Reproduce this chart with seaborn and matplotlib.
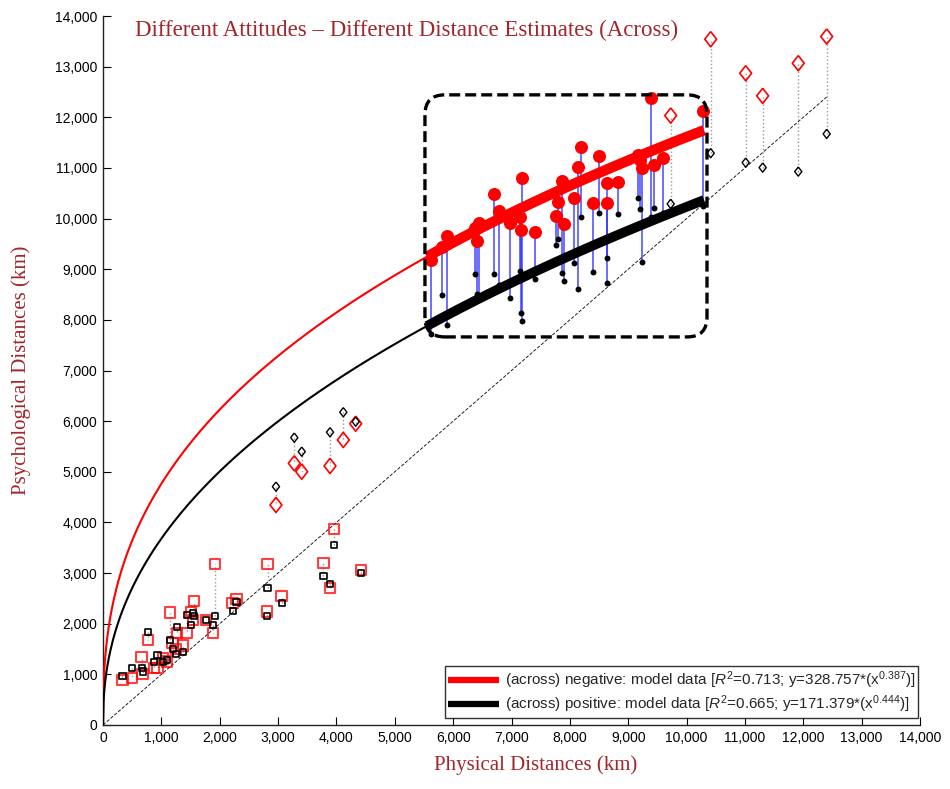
import numpy as np
import pandas as pd
import matplotlib
matplotlib.use("Agg")
import matplotlib.pyplot as plt
import seaborn as sns
from matplotlib.patches import FancyBboxPatch
from matplotlib.lines import Line2D
from matplotlib.ticker import FuncFormatter

# ---------------- data (km) ----------------
# open squares: short physical distances (negative = red, positive = black)
sq_x = [334, 492, 680, 663, 776, 879, 934, 1028, 1097, 1148, 1194, 1263, 1251, 1366, 1434,
        1511, 1564, 1547, 1765, 1919, 1880, 2222, 2288, 2819, 2807, 3062, 3778, 3890, 3963, 4421]
sq_neg = [889, 934, 1007, 1343, 1673, 1120, 1126, 1317, 1250, 2218, 1625, 1811, 1495, 1566, 1811,
          2226, 2449, 2074, 2074, 3174, 1811, 2404, 2483, 3174, 2238, 2548, 3194, 2700, 3865, 3061]
sq_pos = [974, 1126, 1057, 1132, 1837, 1244, 1383, 1244, 1290, 1679, 1495, 1930, 1408, 1436, 2173,
          1975, 2153, 2206, 2074, 2153, 1975, 2257, 2433, 2712, 2153, 2404, 2943, 2785, 3555, 2996]

# open diamonds: medium and very long distances
dm_x = [2964, 3278, 3405, 3890, 4118, 4330, 9728, 10413, 11013, 11304, 11914, 12401]
dm_neg = [4345, 5168, 5003, 5115, 5629, 5950, 12034, 13542, 12870, 12423, 13068, 13595]
dm_pos = [4707, 5674, 5398, 5781, 6176, 5990, 10290, 11291, 11105, 11007, 10928, 11672]

# filled circles: points inside the dashed box
ci_x = [5620, 5809, 5889, 6374, 6448, 6414, 6705, 6786, 6974, 7188, 7145, 7162, 7408, 7762, 7805, 7860,
        7899, 8079, 8139, 8191, 8401, 8504, 8628, 8641, 8830, 9176, 9210, 9231, 9385, 9442, 9601, 10273]
ci_neg = [9184, 9440, 9648, 9822, 9909, 9559, 10487, 10152, 9920, 10797, 10039, 9776, 9731, 10053, 10335, 10750,
          9895, 10402, 11026, 11416, 10315, 11238, 10698, 10315, 10730, 11258, 11150, 10995, 12377, 11060, 11192, 12127]
ci_pos = [7722, 8493, 7900, 8901, 8420, 8512, 8901, 8690, 8427, 7985, 8967, 8131, 8803, 9480, 9592, 8921,
          8775, 9118, 8601, 10039, 8953, 10112, 9223, 8735, 10086, 10402, 10185, 9150, 10039, 10205, 10106, 10256]

# model fits shown in the legend
NEG_A, NEG_B, NEG_R2 = 328.757, 0.387, 0.713
POS_A, POS_B, POS_R2 = 171.379, 0.444, 0.665
FIT_LO, FIT_HI = 5550, 10300  # range of the highlighted (thick) model segment
DIAG_MAX = 12400

x_ticks = list(range(0, 14001, 1000))
y_ticks = list(range(0, 14001, 1000))

TITLE = "Different Attitudes \u2013 Different Distance Estimates (Across)"
XLABEL = "Physical Distances (km)"
YLABEL = "Psychological Distances (km)"

# ---------------- style ----------------
sns.set_theme(style="white")
plt.rcParams["font.family"] = ["Liberation Sans", "DejaVu Sans"]
plt.rcParams["mathtext.fontset"] = "custom"
plt.rcParams["mathtext.rm"] = "Liberation Sans"
plt.rcParams["mathtext.it"] = "Liberation Sans:italic"
plt.rcParams["mathtext.bf"] = "Liberation Sans:bold"

DARKRED = "#a3262c"

fig = plt.figure(figsize=(9.5, 7.89), dpi=100)
ax = fig.add_axes([103 / 950, 1 - 725 / 789, 817 / 950, 709 / 789])

# diagonal y = x
diag = pd.DataFrame({"x": [0, DIAG_MAX], "y": [0, DIAG_MAX]})
sns.lineplot(data=diag, x="x", y="y", ax=ax, color="black", lw=0.6,
             linestyle=(0, (4, 2)), zorder=1)

# connectors
ax.vlines(sq_x, sq_pos, sq_neg, colors="#9a9a9a", linestyles=":", lw=1.0, zorder=2)
ax.vlines(dm_x, dm_pos, dm_neg, colors="#9a9a9a", linestyles=":", lw=1.0, zorder=2)
ax.vlines(ci_x, ci_pos, ci_neg, colors="#2a2aff", lw=1.2, alpha=0.8, zorder=2)

# model curves
xt = np.linspace(0, FIT_LO, 600)
xk = np.linspace(FIT_LO, FIT_HI, 200)
sns.lineplot(x=xt, y=NEG_A * xt ** NEG_B, ax=ax, color="red", lw=1.5, zorder=3)
sns.lineplot(x=xt, y=POS_A * xt ** POS_B, ax=ax, color="black", lw=1.5, zorder=3)
sns.lineplot(x=xk, y=NEG_A * xk ** NEG_B, ax=ax, color="red", lw=7.5, zorder=3,
             solid_capstyle="butt")
sns.lineplot(x=xk, y=POS_A * xk ** POS_B, ax=ax, color="black", lw=7.0, zorder=3,
             solid_capstyle="butt")

# markers
diamond = [(0, 1), (0.78, 0), (0, -1), (-0.78, 0), (0, 1)]
sns.scatterplot(x=sq_x, y=sq_neg, ax=ax, marker="s", s=56, facecolor="none",
                edgecolor="red", linewidth=1.5, alpha=0.75, zorder=4)
sns.scatterplot(x=sq_x, y=sq_pos, ax=ax, marker="s", s=20, facecolor="none",
                edgecolor="black", linewidth=1.2, zorder=5)
sns.scatterplot(x=dm_x, y=dm_neg, ax=ax, marker=diamond, s=120, facecolor="none",
                edgecolor="red", linewidth=1.2, zorder=4)
sns.scatterplot(x=dm_x, y=dm_pos, ax=ax, marker=diamond, s=44, facecolor="none",
                edgecolor="black", linewidth=1.0, zorder=5)
sns.scatterplot(x=ci_x, y=ci_neg, ax=ax, marker="o", s=88, color="red",
                linewidth=0, zorder=4)
sns.scatterplot(x=ci_x, y=ci_pos, ax=ax, marker="o", s=18, color="black",
                linewidth=0, zorder=5)

# dashed rounded box around the highlighted region
box = FancyBboxPatch((5517, 7663), 10350 - 5517, 12443 - 7663,
                     boxstyle="round,pad=0,rounding_size=340",
                     fill=False, edgecolor="black", lw=2.4,
                     linestyle=(0, (3.3, 1.5)), zorder=6,
                     mutation_aspect=19.75 / 17.135)
ax.add_patch(box)

# axes
ax.set_xlim(0, 14000)
ax.set_ylim(0, 14000)
ax.set_xticks(x_ticks)
ax.set_yticks(y_ticks)
fmt = FuncFormatter(lambda v, p: f"{int(v):,}")
ax.xaxis.set_major_formatter(fmt)
ax.yaxis.set_major_formatter(fmt)
ax.tick_params(direction="in", length=6, width=0.8, labelsize=10, colors="black",
               left=True, bottom=True, pad=4)
for s in ["top", "right"]:
    ax.spines[s].set_visible(False)
for s in ["left", "bottom"]:
    ax.spines[s].set_color("#222222")
    ax.spines[s].set_linewidth(1.0)
ax.grid(False)

ax.set_xlabel(XLABEL, family="Liberation Serif", fontsize=15, color=DARKRED)
ax.set_ylabel(YLABEL, family="Liberation Serif", fontsize=15, color=DARKRED)
ax.xaxis.set_label_coords(0.53, -0.042)
ax.yaxis.set_label_coords(-0.088, 0.5)

ax.text(0.039, 0.98, TITLE, transform=ax.transAxes, family="Liberation Serif",
        fontsize=16.5, color=DARKRED, ha="left", va="center")

handles = [Line2D([], [], color="red", lw=4.5, solid_capstyle="butt"),
           Line2D([], [], color="black", lw=4.5, solid_capstyle="butt")]
labels = [f"(across) negative: model data [$R^2$={NEG_R2}; y={NEG_A}*(x$^{{{NEG_B}}}$)]",
          f"(across) positive: model data [$R^2$={POS_R2}; y={POS_A}*(x$^{{{POS_B}}}$)]"]
leg = ax.legend(handles, labels, loc="lower right", bbox_to_anchor=(0.998, 0.01),
                fontsize=11, frameon=True, fancybox=False, edgecolor="black",
                handlelength=3.3, borderpad=0.2, labelspacing=0.15, handletextpad=0.4,
                borderaxespad=0)
leg.get_frame().set_linewidth(1.0)
leg.set_zorder(10)

fig.savefig("out.png", dpi=100)
